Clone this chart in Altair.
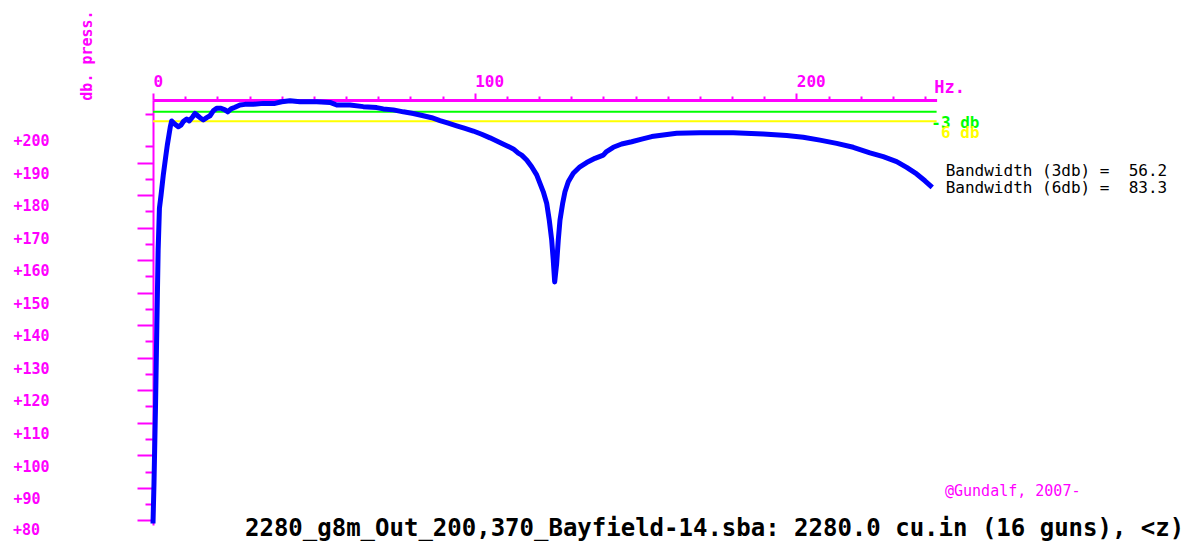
import altair as alt
import pandas as pd

# ---------------- data ----------------
hz = [0.0, 0.3, 0.8, 1.2, 1.6, 2.0, 2.5, 3.2, 3.95, 4.45, 4.97, 5.38, 5.81, 6.84, 7.86,
      8.70, 9.42, 10.48, 11.28, 12.34, 13.06, 13.89, 14.61, 15.64, 16.69, 17.72, 18.74,
      19.80, 21.14, 22.38, 23.22, 24.25, 25.49, 27.04, 28.60, 31.18, 34.29, 37.92, 40.01,
      42.59, 45.69, 50.89, 55.02, 57.10, 61.24, 65.37, 69.54, 71.59, 74.70, 77.81, 80.91,
      84.02, 86.63, 89.21, 91.79, 94.40, 96.98, 99.56, 102.18, 104.76, 107.34, 109.95,
      112.00, 113.56, 114.61, 116.16, 117.72, 119.27, 120.30, 121.33, 122.38, 123.19,
      123.94, 124.43, 124.87, 125.49, 125.99, 126.52, 127.36, 128.07, 129.10, 130.65,
      132.73, 134.81, 137.40, 139.98, 141.00, 143.09, 145.69, 148.80, 151.91, 155.02,
      158.63, 162.79, 170.03, 180.38, 189.71, 196.99, 202.14, 207.34, 212.53, 217.69,
      222.88, 227.01, 231.18, 234.29, 237.39, 239.97, 242.24]
db = [84.0, 96.0, 121.0, 145.0, 168.0, 181.0, 185.0, 191.2, 196.8, 200.4, 203.5, 206.0,
      207.8, 206.8, 206.0, 206.5, 207.6, 208.4, 207.8, 209.1, 210.1, 209.4, 208.8, 208.1,
      208.8, 209.4, 210.9, 211.7, 211.7, 211.2, 210.6, 211.5, 212.0, 212.7, 212.9, 212.9,
      213.2, 213.2, 213.7, 214.0, 213.7, 213.7, 213.5, 212.7, 212.7, 212.2, 211.9, 211.5,
      211.2, 210.6, 210.1, 209.4, 208.8, 207.9, 207.1, 206.3, 205.5, 204.7, 203.7, 202.6,
      201.4, 200.2, 199.2, 197.9, 197.3, 195.8, 193.7, 191.2, 188.6, 186.0, 182.5, 177.3,
      171.2, 165.0, 158.3, 164.0, 171.2, 177.3, 182.5, 186.0, 189.1, 191.7, 193.7, 195.0,
      196.3, 197.3, 198.4, 199.7, 200.7, 201.4, 202.2, 203.0, 203.5, 204.0, 204.2, 204.2,
      203.8, 203.3, 202.8, 201.9, 200.9, 199.7, 198.0, 196.8, 195.3, 193.5, 191.5, 189.4,
      187.4]

level_names = ["-3 db", "-6 db"]
level_db = [210.6, 207.7]
level_colors = ["#00FF00", "#FFFF00"]

x_major_ticks = [0, 100, 200]
x_minor_ticks = [v for v in range(10, 250, 10) if v % 100 != 0]
y_short_ticks = list(range(90, 211, 10))
y_long_ticks = list(range(85, 196, 10))

title_text = "2280_g8m_Out_200,370_Bayfield-14.sba: 2280.0 cu.in (16 guns), <z)"
bandwidth_lines = ["Bandwidth (3db) =\u00a0 56.2", "Bandwidth (6db) =\u00a0 83.3"]
label_3db = ["-3 db"]
label_6db = ["6 db"]
copyright_text = ["@Gundalf, 2007-"]
low_label = ["+80"]

# ---------------- styling ----------------
MAG = "#FF00FF"
MONO = "DejaVu Sans Mono"
X_MAX = 243.6
Y_MIN, Y_MAX = 83.55, 214.24
W, H = 783.6, 425

curve = pd.DataFrame({"hz": hz, "db": db})
levels = pd.DataFrame({"name": level_names, "db": level_db,
                       "start": [0.0] * len(level_db), "end": [X_MAX] * len(level_db)})

xscale = alt.Scale(domain=[0, X_MAX], nice=False, zero=False)
yscale = alt.Scale(domain=[Y_MIN, Y_MAX], nice=False, zero=False)

x_major_axis = alt.Axis(
    orient="top", values=x_major_ticks, tickSize=7, tickWidth=2, tickColor=MAG,
    domainColor=MAG, domainWidth=3, labelColor=MAG, labelFont=MONO, labelFontSize=16,
    labelFontWeight="bold", labelAlign="left", labelBaseline="alphabetic", labelPadding=7,
    labelFlush=False, labelOverlap=False, grid=False,
    title="Hz.", titleX=780.7, titleY=-13, titleAlign="left", titleBaseline="middle",
    titleColor=MAG, titleFont=MONO, titleFontSize=17, titleFontWeight="bold",
)
y_label_axis = alt.Axis(
    orient="left", values=y_short_ticks,
    labelExpr="datum.value > 200 ? '' : '+' + datum.value",
    tickSize=8, tickWidth=2, tickColor=MAG, domainColor=MAG, domainWidth=2,
    labelColor=MAG, labelFont=MONO, labelFontSize=15, labelFontWeight="bold",
    labelAlign="left", labelBaseline="middle", labelPadding=132, labelOffset=-5.5,
    labelFlush=False, labelOverlap=False, grid=False,
    title="db. press.", titleAngle=270, titleX=-66.3, titleY=-45, titleAlign="center",
    titleBaseline="middle", titleColor=MAG, titleFont=MONO, titleFontSize=15,
    titleFontWeight="bold",
)
x_minor_axis = alt.Axis(orient="top", values=x_minor_ticks, tickSize=4, tickWidth=2,
                        tickColor=MAG, labels=False, domain=False, grid=False, title=None)
y_long_axis = alt.Axis(orient="left", values=y_long_ticks, tickSize=16, tickWidth=2,
                       tickColor=MAG, labels=False, domain=False, grid=False, title=None)

rules = alt.Chart(levels).mark_rule(strokeWidth=2).encode(
    x=alt.X("start:Q", scale=xscale, axis=x_minor_axis),
    x2="end:Q",
    y=alt.Y("db:Q", scale=yscale, axis=y_long_axis),
    color=alt.Color("name:N", scale=alt.Scale(domain=level_names, range=level_colors),
                    legend=None),
)

line = alt.Chart(curve).mark_line(color="#0000FF", strokeWidth=5, strokeJoin="round").encode(
    x=alt.X("hz:Q", scale=xscale, axis=x_major_axis),
    y=alt.Y("db:Q", scale=yscale, axis=y_label_axis),
)


def text_layer(lines, x, y, color, size, weight="bold", baseline="alphabetic", line_height=None):
    kw = dict(align="left", baseline=baseline, font=MONO, fontSize=size,
              fontWeight=weight, color=color, text=lines if len(lines) > 1 else lines[0])
    if line_height:
        kw["lineHeight"] = line_height
    return alt.Chart(pd.DataFrame({"k": [0]})).mark_text(**kw).encode(
        x=alt.value(x), y=alt.value(y))


t80 = text_layer(low_label, -140, 429.5, MAG, 15, baseline="middle")
t3 = text_layer(label_3db, 778.3, 27.5, "#00FF00", 16)
t6 = text_layer(label_6db, 788.0, 37.5, "#FFFF00", 16)
tbw = text_layer(bandwidth_lines, 792.7, 75.8, "black", 16, weight="normal", line_height=17.7)
tcp = text_layer(copyright_text, 792.0, 395.5, MAG, 15, weight="normal")

chart = alt.layer(rules, line, t80, t3, t6, tbw, tcp).resolve_axis(
    x="independent", y="independent"
).properties(
    width=W, height=H,
    padding={"left": 145, "top": 92, "right": 256.4, "bottom": 16},
    autosize=alt.AutoSizeParams(type="none"),
    background="white",
    title=alt.TitleParams(text=title_text, orient="bottom", anchor="start", frame="group",
                          dx=92, dy=-8, offset=6.2, baseline="alphabetic", font=MONO,
                          fontSize=24, fontWeight="bold", color="black"),
).configure_view(stroke=None)

chart.save("out.html", embed_options={"renderer": "svg", "actions": False})
